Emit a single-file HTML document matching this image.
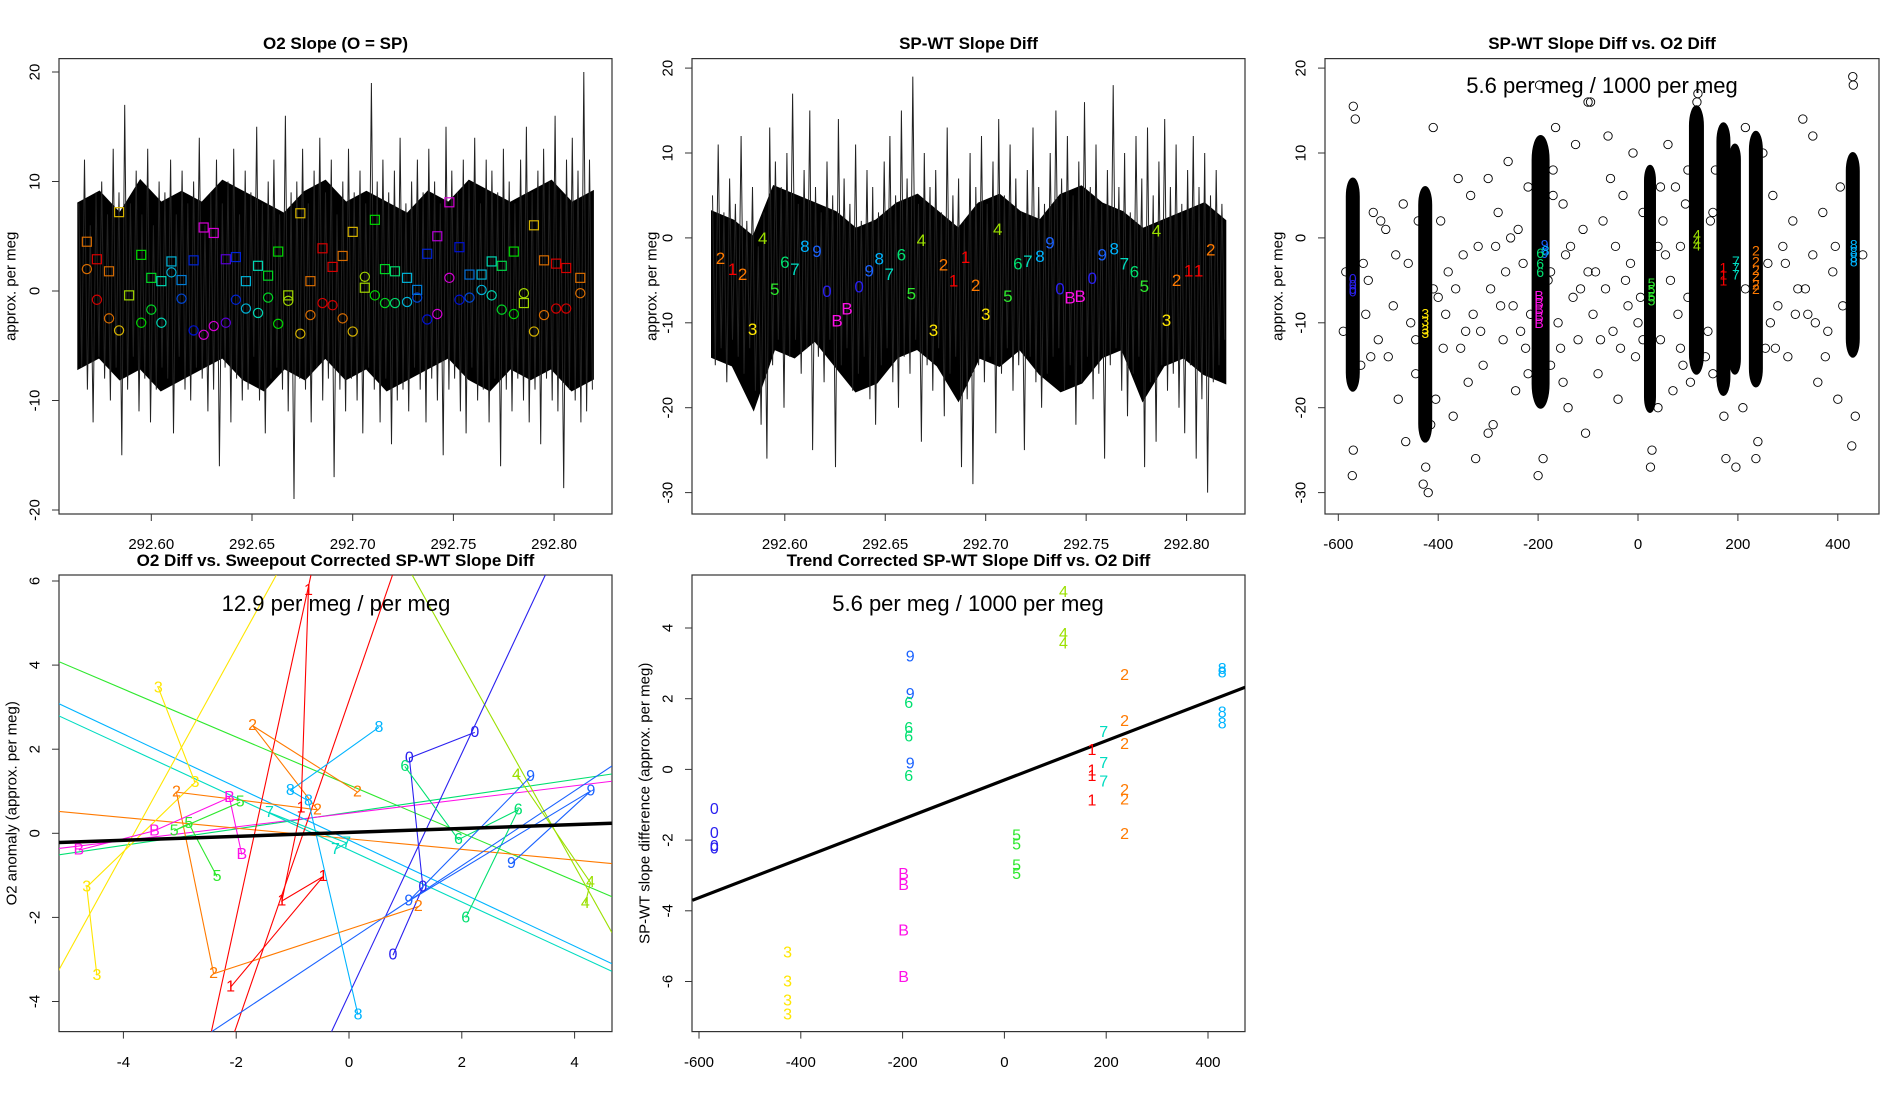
<!DOCTYPE html>
<html><head><meta charset="utf-8"><style>
html,body{margin:0;padding:0;background:#fff;overflow:hidden;width:1900px;height:1100px;position:relative}
svg{display:block;position:absolute;left:0;top:0;font-family:"Liberation Sans",Arial,sans-serif}
</style></head><body>
<svg id="fig" width="1900" height="1100" viewBox="0 0 1900 1100" xmlns="http://www.w3.org/2000/svg">
<rect width="1900" height="1100" fill="#fff"/>
<defs>
<clipPath id="c1"><rect x="59" y="58.6" width="553" height="455.4"/></clipPath>
<clipPath id="c2"><rect x="692" y="58.6" width="553" height="455.4"/></clipPath>
<clipPath id="c3"><rect x="1325" y="58.6" width="554" height="455.4"/></clipPath>
<clipPath id="c4"><rect x="59" y="575" width="553" height="456.6"/></clipPath>
<clipPath id="c5"><rect x="692" y="575" width="553" height="456.6"/></clipPath>
</defs>
</svg>
<script>
// ---------- panel 1 data ----------
const p1Noise=[8,-7,12,-9,6,-12,9,-6,10,-8,7,-10,13,-7,9,-15,17,-9,8,-6,11,-11,7,-8,13,-12,6,-9,10,-7,
9,-8,12,-13,7,-6,11,-9,8,-10,10,-7,14,-8,6,-11,9,-9,12,-16,8,-7,10,-12,13,-8,7,-10,11,-9,
9,-6,15,-10,8,-13,10,-8,12,-7,7,-9,16,-11,9,-19,10,-8,13,-9,8,-12,11,-7,14,-10,9,-8,12,-17,
7,-9,10,-11,13,-8,9,-10,11,-13,8,-7,19,-9,10,-12,12,-8,9,-14,11,-10,14,-9,8,-11,10,-7,12,-9,
9,-12,13,-8,10,-10,8,-15,15,-9,11,-8,9,-11,12,-13,10,-7,14,-10,8,-9,12,-12,11,-8,9,-16,13,-9,
10,-11,8,-8,12,-10,15,-12,9,-9,11,-14,13,-8,10,-10,16,-11,9,-18,12,-9,14,-10,11,-12,20,-11,12,-9];
const p1CoreHi=[8,9,7,10,8,9,8,10,9,8,7,9,10,8,9,8,7,9,8,10,9,8,9,10,8,9];
const p1CoreLo=[-7,-6,-8,-7,-9,-8,-7,-6,-8,-9,-7,-8,-6,-8,-7,-9,-8,-7,-6,-8,-9,-7,-8,-7,-9,-8];
const p1Start=292.564, p1End=292.819;
const sqX=[292.568,292.573,292.579,292.584,292.589,292.595,292.600,292.605,292.610,292.615,292.621,292.626,292.631,292.637,292.642,292.647,292.653,292.658,292.663,292.668,292.674,292.679,292.685,292.690,292.695,292.700,292.706,292.711,292.716,292.721,292.727,292.732,292.737,292.742,292.748,292.753,292.758,292.764,292.769,292.774,292.780,292.785,292.790,292.795,292.801,292.806,292.813];
const sqY=[4.5,2.9,1.8,7.2,-0.4,3.3,1.2,0.9,2.7,1.0,2.8,5.8,5.3,2.9,3.1,0.9,2.3,1.4,3.6,-0.4,7.1,0.9,3.9,2.2,3.2,5.4,0.3,6.5,2.0,1.8,1.2,0.1,3.4,5.0,8.1,4.0,1.5,1.5,2.7,2.3,3.6,-1.1,6.0,2.8,2.5,2.1,1.2];
const sqHue=[30,0,30,50,75,120,130,170,190,205,230,300,300,265,230,190,170,130,120,75,50,30,0,0,30,50,75,120,130,150,190,205,230,290,300,235,210,190,170,140,120,75,50,30,0,0,30];
const ciX=[292.568,292.573,292.579,292.584,292.595,292.600,292.605,292.610,292.615,292.621,292.626,292.631,292.637,292.642,292.647,292.653,292.658,292.663,292.668,292.674,292.679,292.685,292.690,292.695,292.700,292.706,292.711,292.716,292.721,292.727,292.732,292.737,292.742,292.748,292.753,292.758,292.764,292.769,292.774,292.780,292.785,292.790,292.795,292.801,292.806,292.813];
const ciY=[2.0,-0.8,-2.5,-3.6,-2.9,-1.7,-2.9,1.7,-0.7,-3.6,-4.0,-3.2,-2.9,-0.8,-1.6,-2.0,-0.6,-3.0,-0.9,-3.9,-2.2,-1.1,-1.3,-2.5,-3.7,1.3,-0.4,-1.1,-1.1,-1.0,-0.6,-2.6,-2.1,1.2,-0.8,-0.6,0.1,-0.4,-1.7,-2.1,-0.2,-3.7,-2.2,-1.6,-1.6,-0.2];
const ciHue=[30,0,30,50,120,130,170,190,220,235,300,300,265,230,190,170,130,120,75,50,30,0,0,30,50,75,120,130,150,190,220,235,300,300,235,220,190,170,130,120,75,50,30,0,0,30];
const p1XTicks=[292.60,292.65,292.70,292.75,292.80];
const p1YTicks=[-20,-10,0,10,20];
// ---------- panel 2 data ----------
const p2Noise=[5,-15,11,-13,3,-17,7,-12,4,-14,12,-16,2,-13,6,-18,-1,-22,3,-26,13,-15,9,-12,6,-20,10,-14,17,-12,
4,-16,8,-13,15,-25,6,-14,3,-17,9,-12,5,-27,14,-15,7,-13,4,-18,11,-16,2,-14,8,-19,6,-22,3,-15,
9,-13,12,-17,5,-20,15,-14,7,-16,19,-12,4,-24,10,-15,6,-18,8,-13,3,-21,13,-16,5,-14,7,-27,2,-19,
10,-29,6,-15,12,-17,4,-14,9,-23,14,-16,5,-13,11,-18,7,-15,3,-25,8,-14,13,-17,6,-20,4,-16,10,-14,
15,-13,7,-18,12,-15,5,-22,9,-17,16,-14,6,-19,11,-16,4,-26,8,-15,18,-13,6,-18,10,-21,3,-16,12,-14,
7,-27,13,-17,5,-24,9,-15,14,-18,6,-16,11,-20,4,-23,8,-15,12,-26,6,-19,10,-30,5,-17,8,-15,4,-12];
const p2CoreHi=[3,2,0,6,5,4,3,1,2,4,5,3,1,4,5,3,2,5,6,4,3,1,2,3,4,2];
const p2CoreLo=[-14,-15,-20,-13,-14,-12,-15,-18,-17,-14,-13,-15,-19,-14,-15,-13,-16,-18,-17,-14,-13,-19,-15,-14,-16,-17];
const p2Start=292.564, p2End=292.819;
const p2LabX=[292.568,292.574,292.579,292.584,292.589,292.595,292.600,292.605,292.610,292.616,292.621,292.626,292.631,292.637,292.642,292.647,292.652,292.658,292.663,292.668,292.674,292.679,292.684,292.690,292.695,292.700,292.706,292.711,292.716,292.721,292.727,292.732,292.737,292.742,292.747,292.753,292.758,292.764,292.769,292.774,292.779,292.785,292.790,292.795,292.801,292.806,292.812];
const p2LabY=[-2.4,-3.7,-4.3,-10.8,-0.1,-6.1,-2.9,-3.7,-1.0,-1.6,-6.3,-9.8,-8.4,-5.8,-3.9,-2.5,-4.3,-2.0,-6.6,-0.3,-10.9,-3.2,-5.1,-2.3,-5.6,-9.0,1.0,-6.9,-3.1,-2.8,-2.2,-0.6,-6.0,-7.1,-6.9,-4.8,-2.0,-1.3,-3.1,-4.0,-5.7,0.8,-9.7,-5.0,-3.9,-3.9,-1.4];
const p2LabTxt=["2","1","2","3","4","5","6","7","8","9","0","B","B","0","9","8","7","6","5","4","3","2","1","1","2","3","4","5","6","7","8","9","0","B","B","0","9","8","7","6","5","4","3","2","1","1","2"];
const p2YTicks=[-30,-20,-10,0,10,20];
// ---------- panel 3 data ----------
const clX=[-571,-426,-195,24,117,171,194,236,430];
const clTop=[7,6,12,8.5,15.5,13.5,11,12.5,10];
const clBot=[-18,-24,-20,-20.5,-16,-18.5,-16,-17.5,-14];
const clHalfW=[12,12,16,10,13,12,10,12,12];
const scX=[-540,-530,-520,-505,-500,-490,-480,-470,-460,-455,
-445,-400,-395,-390,-380,-370,-360,-350,-345,-340,
-335,-330,-320,-310,-300,-295,-290,-280,-270,-265,
-260,-250,-245,-240,-230,-225,-220,-180,-175,-170,
-160,-150,-145,-140,-130,-125,-120,-110,-100,-95,
-90,-80,-70,-65,-60,-50,-45,-40,-30,-20,
-15,-10,-5,5,10,45,50,60,65,70,
75,80,85,90,95,100,140,145,150,155,
210,215,260,265,270,280,290,300,310,320,
330,340,350,360,370,380,390,400,405,-535,
-515,-485,-465,-385,-365,-355,-325,-315,-285,-275,
-255,-235,-165,-155,-135,-115,-105,-85,-75,-55,
-35,-25,0,55,85,105,275,295,315,335,
355,375,395,-410,-300,-150,-100,40,250,350,
-570,-566,-570,-572,-425,-430,-420,-197,-200,-190,
25,28,120,118,172,176,196,236,240,430,431,428,435,
-550,-545,-555,-410,-405,-440,-445,-175,-170,-215,-220,10,40,45,100,135,150,215,255,410,450,-585,-590,-415];
const scY=[-5,3,-12,1,-14,-8,-19,4,-3,-10,
-16,-7,2,-13,-4,-21,7,-2,-11,-17,
5,-9,-1,-15,7,-6,-22,3,-12,-4,
9,-8,-18,1,-3,-13,6,-5,-15,8,
-10,4,-2,-20,-7,11,-12,1,-4,16,
-9,-16,2,-6,12,-11,-1,-19,5,-8,
-3,10,-14,-7,3,-12,2,11,-5,-18,
6,-9,-1,-15,4,-7,-11,2,-16,8,
-20,13,-3,-10,5,-8,-1,-14,2,-6,
14,-9,-2,-17,3,-11,-4,-19,6,-14,
2,-2,-24,-9,-6,-13,-26,-11,-1,-8,
0,-11,13,-13,-1,-6,-23,-4,-12,7,
-13,-5,-10,-2,-13,-17,-13,-3,-9,-6,
-10,-14,-1,13,-23,-17,16,-20,10,12,
15.5,14,-25,-28,-27,-29,-30,18,-28,-26,
-27,-25,17,16,-21,-26,-27,-26,-24,19,18,-24.5,-21,
-3,-9,-15,-6,-19,2,-12,-4,5,-9,-16,-12,-1,6,8,-14,3,-6,-13,-8,-2,-4,-11,-22];
const p3LabX=[-571,-571,-571,-571,-426,-426,-426,-426,-187,-187,-185,-196,-196,-196,-198,-198,-198,-198,-198,27,27,27,27,118,118,118,171,171,171,196,196,196,236,236,236,236,236,236,432,432,432,432];
const p3LabY=[-4.8,-5.5,-6,-6.3,-8.9,-9.8,-10.8,-11.2,-0.8,-1.8,-1.5,-1.8,-3.0,-4.0,-6.8,-7.6,-8.4,-9.2,-10,-5.3,-6.1,-6.9,-7.4,-0.3,0.4,-0.9,-3.5,-4.3,-5,-2.7,-3.5,-4.3,-1.5,-2.8,-3.8,-4.5,-5.5,-6,-0.8,-1.6,-2.3,-2.8];
const p3LabTxt=["0","0","0","0","3","3","3","3","9","9","8","6","6","6","B","B","B","B","B","5","5","5","5","4","4","4","1","1","1","7","7","7","2","2","2","2","2","2","8","8","8","8"];
const p3XTicks=[-600,-400,-200,0,200,400];
// ---------- panel 4 data ----------
const p4Groups=["3","2","8","0","6","4","9","B","5","7","1"];
const p4GX=[[-3.38,-2.73,-4.65,-4.47],[0.15,-1.71,-0.56,-3.06,-2.40,1.23],[0.53,-1.04,-0.72,0.16],[2.23,1.07,1.31,0.78],[0.99,1.94,3.0,2.07],[2.97,4.28,4.19],[2.88,4.29,1.06,3.22],[-4.79,-3.45,-2.12,-1.90],[-1.93,-3.10,-2.84,-2.34],[-1.41,-0.04,-0.24],[-0.72,-0.85,-1.19,-0.46,-2.10]];
const p4GY=[[3.46,1.21,-1.28,-3.38],[0.98,2.56,0.56,0.98,-3.34,-1.74],[2.52,1.02,0.77,-4.32],[2.40,1.79,-1.28,-2.90],[1.59,-0.15,0.56,-2.01],[1.39,-1.17,-1.67],[-0.72,1.01,-1.61,1.35],[-0.40,0.06,0.85,-0.51],[0.74,0.06,0.23,-1.03],[0.49,-0.23,-0.38],[5.78,0.60,-1.61,-1.03,-3.66]];
const p4LineGroup=["5","6","B","2","8","7","3","4","1","1","0","9"];
const p4LineSlope=[-0.570,0.196,0.163,-0.1265,-0.6306,-0.6194,2.436,-2.401,6.15,3.879,2.865,0.890];
const p4LineInt=[1.150,0.497,0.478,-0.130,-0.161,-0.394,9.28,8.83,10.29,3.15,-3.83,-2.55];
const p4FitSlope=0.0469, p4FitInt=0.021;
const p4XTicks=[-4,-2,0,2,4];
const p4YTicks=[-4,-2,0,2,4,6];
// ---------- panel 5 data ----------
const p5X=[-570,-570,-570,-570,-426,-426,-426,-426,-185,-185,-185,-188,-188,-188,-188,-198,-198,-198,-198,24,24,24,24,116,116,116,236,236,236,236,236,236,428,428,428,428,195,195,195,172,172,172,172];
const p5Y=[-1.14,-1.82,-2.18,-2.25,-5.19,-6.01,-6.55,-6.95,3.18,2.12,0.15,1.86,1.16,0.91,-0.20,-2.98,-3.28,-4.57,-5.89,-1.89,-2.14,-2.73,-2.98,5.01,3.82,3.55,2.65,1.36,0.70,-0.60,-0.86,-1.84,2.83,2.73,1.59,1.29,1.04,0.17,-0.35,0.53,-0.05,-0.20,-0.89];
const p5Txt=["0","0","0","0","3","3","3","3","9","9","9","6","6","6","6","B","B","B","B","5","5","5","5","4","4","4","2","2","2","2","2","2","8","8","8","8","7","7","7","1","1","1","1"];
const p5FitSlope=0.00555, p5FitInt=-0.30;
const p5XTicks=[-600,-400,-200,0,200,400];
const p5YTicks=[-6,-4,-2,0,2,4];

const COL={"0":"#2a20f0","1":"#ff0000","2":"#ff7a00","3":"#ffe600","4":"#9be000","5":"#2ee82e","6":"#00e070","7":"#00dcc0","8":"#00b4ff","9":"#1a62ff","B":"#ff10e8"};
const NS="http://www.w3.org/2000/svg";
const svg=document.getElementById('fig');
function el(tag,attrs,parent,text){const e=document.createElementNS(NS,tag);for(const k in attrs)e.setAttribute(k,attrs[k]);if(text!==undefined)e.textContent=text;(parent||svg).appendChild(e);return e;}
function grp(name,parent){const g=el('g',{},parent);


return g;}
// restrict x-range of y=m*x+b to [ylo,yhi]
function clipRange(m,b,xa,xb,ylo,yhi){
 let a=xa,c=xb;
 if(m!==0){const x1=(ylo-b)/m,x2=(yhi-b)/m;const lo=Math.min(x1,x2),hi=Math.max(x1,x2);a=Math.max(a,lo);c=Math.min(c,hi);}
 return [a,c];
}

function frame(name,box,title,titleY,xt,sx,yt,sy,ylab,ylabX,fmtX,xLabY){
 const g=grp(name);
 const b=el('rect',{x:box[0],y:box[1],width:box[2]-box[0],height:box[3]-box[1],fill:'none',stroke:'#333','stroke-width':1.2},g);
 
 
 const t=el('text',{x:(box[0]+box[2])/2,y:titleY,'text-anchor':'middle','font-size':17,'font-weight':'bold'},g,title);
 
 
 if(xt){const xa=grp('x-axis',g);
  xt.forEach(v=>{const x=sx(v);el('line',{x1:x,x2:x,y1:box[3],y2:box[3]+7,stroke:'#333'},xa);
   const tl=el('text',{x:x,y:xLabY,'text-anchor':'middle','font-size':15},xa,fmtX(v));
   
   });}
 const ya=grp('y-axis',g);
 yt.forEach(v=>{const y=sy(v);el('line',{x1:box[0]-7,x2:box[0],y1:y,y2:y,stroke:'#333'},ya);
  const tl=el('text',{x:box[0]-24,y:y,'text-anchor':'middle','font-size':15,transform:`rotate(-90 ${box[0]-24} ${y})`,'dominant-baseline':'central'},ya,String(v));
  
  });
 const cy=(box[1]+box[3])/2;
 const yl=el('text',{x:ylabX,y:cy,'text-anchor':'middle','font-size':15,transform:`rotate(-90 ${ylabX} ${cy})`,'dominant-baseline':'central'},g,ylab);
 
 
 return g;
}
function noise(g,vals,hi,lo,start,end,sx,sy,clip){
 const m=hi.length;
 const top=hi.map((v,i)=>sx(start+(end-start)*i/(m-1)).toFixed(1)+','+sy(v).toFixed(1));
 const bot=lo.map((v,i)=>sx(start+(end-start)*i/(m-1)).toFixed(1)+','+sy(v).toFixed(1)).reverse();
 const core=el('polygon',{points:top.concat(bot).join(' '),fill:'#000',stroke:'#000','stroke-width':3,'clip-path':clip},g);
 
 
 const n=vals.length;const pts=vals.map((v,i)=>sx(start+(end-start)*i/(n-1)).toFixed(1)+','+sy(v).toFixed(1)).join(' ');
 const p=el('polyline',{points:pts,fill:'none',stroke:'#222','stroke-width':1,'clip-path':clip},g);
 
 
}
// ---- panel 1
{const sx=v=>151.3+(v-292.60)*2014, sy=v=>291-v*10.95;
 const g=frame('panel-o2-slope',[59,58.6,612,514],'O2 Slope (O = SP)',49,p1XTicks,sx,p1YTicks,sy,'approx. per meg',11,v=>v.toFixed(2),549);
 noise(g,p1Noise,p1CoreHi,p1CoreLo,p1Start,p1End,sx,sy,'url(#c1)');
 sqX.forEach((x,i)=>{const r=el('rect',{x:sx(x)-4.5,y:sy(sqY[i])-4.5,width:9,height:9,fill:'none',stroke:`hsl(${sqHue[i]},100%,42%)`,'stroke-width':1.2},g);
  
  });
 ciX.forEach((x,i)=>{const c=el('circle',{cx:sx(x),cy:sy(ciY[i]),r:4.6,fill:'none',stroke:`hsl(${ciHue[i]},100%,42%)`,'stroke-width':1.2},g);
  
  });
}
// ---- panel 2
{const sx=v=>784.8+(v-292.60)*2009, sy=v=>237.9-v*8.49;
 const g=frame('panel-sp-wt-slope-diff',[692,58.6,1245,514],'SP-WT Slope Diff',49,p1XTicks,sx,p2YTicks,sy,'approx. per meg',652,v=>v.toFixed(2),549);
 noise(g,p2Noise,p2CoreHi,p2CoreLo,p2Start,p2End,sx,sy,'url(#c2)');
 p2LabX.forEach((x,i)=>{const t=el('text',{x:sx(x),y:sy(p2LabY[i]),'text-anchor':'middle','dominant-baseline':'central','font-size':17,fill:COL[p2LabTxt[i]]},g,p2LabTxt[i]);
  
  });
}
// ---- panel 3
{const sx=v=>1338.3+(v+600)*0.4995, sy=v=>237.9-v*8.49;
 const g=frame('panel-scatter-slope-vs-o2',[1325,58.6,1879,514],'SP-WT Slope Diff vs. O2 Diff',49,p3XTicks,sx,p2YTicks,sy,'approx. per meg',1278,v=>String(v),549);
 const pg=grp('scatter-points',g);pg.setAttribute('clip-path','url(#c3)');
 clX.forEach((x,i)=>{const w=clHalfW[i]*0.4995*2, y1=sy(clTop[i]), y2=sy(clBot[i]);
  const r=el('rect',{x:sx(x)-w/2,y:y1,width:w,height:y2-y1,rx:w/2,ry:w*1.5,fill:'#000',stroke:'#000','stroke-width':2},pg);
  
  });
 scX.forEach((x,i)=>{const c=el('circle',{cx:sx(x),cy:sy(scY[i]),r:4.2,fill:'none',stroke:'#000','stroke-width':0.9},pg);
  
  });
 p3LabX.forEach((x,i)=>{const t=el('text',{x:sx(x),y:sy(p3LabY[i]),'text-anchor':'middle','dominant-baseline':'central','font-size':14,fill:COL[p3LabTxt[i]]},g,p3LabTxt[i]);
  
  });
 const a=el('text',{x:1602,y:93,'text-anchor':'middle','font-size':22},g,'5.6 per meg / 1000 per meg');
 
 
}
// ---- panel 4
{const sx=v=>349+v*56.4, sy=v=>833.3-v*42.05;
 const g=frame('panel-o2-vs-sweepout',[59,575,612,1031.6],'O2 Diff vs. Sweepout Corrected SP-WT Slope Diff',566,p4XTicks,sx,p4YTicks,sy,'O2 anomaly (approx. per meg)',12,v=>String(v),1067);
 const lg=grp('fit-lines',g);lg.setAttribute('clip-path','url(#c4)');
 const xa=-5.15, xb=4.66, ylo=-4.72, yhi=6.14;
 p4LineSlope.forEach((m,i)=>{const b=p4LineInt[i];const r=clipRange(m,b,xa,xb,ylo,yhi);
  const l=el('line',{x1:sx(r[0]),y1:sy(m*r[0]+b),x2:sx(r[1]),y2:sy(m*r[1]+b),stroke:COL[p4LineGroup[i]],'stroke-width':1.1},lg);
  
  });
 p4Groups.forEach((k,gi)=>{const xs=p4GX[gi], ys=p4GY[gi];
  const pl=el('polyline',{points:xs.map((x,j)=>sx(x)+','+sy(ys[j])).join(' '),fill:'none',stroke:COL[k],'stroke-width':1.1},lg);
  
  
  xs.forEach((x,j)=>{const t=el('text',{x:sx(x),y:sy(ys[j]),'text-anchor':'middle','dominant-baseline':'central','font-size':16,fill:COL[k]},g,k);
   
   });});
 const f=el('line',{x1:sx(xa),y1:sy(p4FitSlope*xa+p4FitInt),x2:sx(xb),y2:sy(p4FitSlope*xb+p4FitInt),stroke:'#000','stroke-width':3.5},lg);
 
 
 const a=el('text',{x:336,y:611,'text-anchor':'middle','font-size':22},g,'12.9 per meg / per meg');
 
 
}
// ---- panel 5
{const sx=v=>699+(v+600)*0.509, sy=v=>769.4-v*35.35;
 const g=frame('panel-trend-corrected',[692,575,1245,1031.6],'Trend Corrected SP-WT Slope Diff vs. O2 Diff',566,p5XTicks,sx,p5YTicks,sy,'SP-WT slope difference (approx. per meg)',645,v=>String(v),1067);
 const lg=grp('fit',g);lg.setAttribute('clip-path','url(#c5)');
 const xa=-613, xb=473;
 const f=el('line',{x1:sx(xa),y1:sy(p5FitSlope*xa+p5FitInt),x2:sx(xb),y2:sy(p5FitSlope*xb+p5FitInt),stroke:'#000','stroke-width':3.2},lg);
 
 
 p5X.forEach((x,i)=>{const t=el('text',{x:sx(x),y:sy(p5Y[i]),'text-anchor':'middle','dominant-baseline':'central','font-size':16,fill:COL[p5Txt[i]]},g,p5Txt[i]);
  
  });
 const a=el('text',{x:968,y:611,'text-anchor':'middle','font-size':22},g,'5.6 per meg / 1000 per meg');
 
 
}
</script>
</body></html>
